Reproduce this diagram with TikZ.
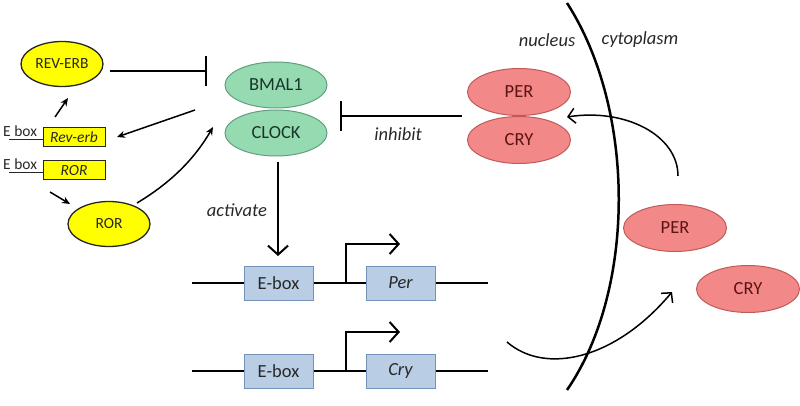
\documentclass[tikz,border=0pt]{standalone}
\usepackage{fontspec}
\setmainfont{Carlito}
\usetikzlibrary{arrows.meta,shapes.geometric}
\definecolor{yfill}{RGB}{255,255,0}
\definecolor{gfill}{RGB}{150,218,178}
\definecolor{gdraw}{RGB}{95,160,125}
\definecolor{rfill}{RGB}{243,136,136}
\definecolor{rdraw}{RGB}{190,90,88}
\definecolor{bfill}{RGB}{185,205,229}
\definecolor{bdraw}{RGB}{115,145,185}
\definecolor{tdark}{RGB}{40,40,40}
\definecolor{tred}{RGB}{90,20,20}
\definecolor{tgreen}{RGB}{25,55,40}
\begin{document}
\begin{tikzpicture}[x=1pt,y=-1pt,
  yell/.style={ellipse,draw=black!85,line width=1.3pt,fill=yfill,text=tdark,
    font=\fontsize{15.5}{18}\selectfont,minimum width=82pt,minimum height=45pt,inner sep=0pt},
  ygene/.style={rectangle,draw=black!85,line width=1pt,fill=yfill,text=tdark,
    font=\fontsize{15.5}{18}\selectfont\itshape,minimum width=62pt,minimum height=19pt,inner sep=0pt},
  grn/.style={ellipse,draw=gdraw,line width=1pt,fill=gfill,text=tgreen,
    font=\fontsize{18.5}{22}\selectfont,minimum width=102pt,minimum height=46pt,inner sep=0pt},
  red/.style={ellipse,draw=rdraw,line width=1pt,fill=rfill,text=tred,
    font=\fontsize{18.5}{22}\selectfont,minimum width=103pt,minimum height=47pt,inner sep=0pt},
  bbox/.style={rectangle,draw=bdraw,line width=1pt,fill=bfill,text=tdark,
    font=\fontsize{18.5}{22}\selectfont,minimum width=69pt,minimum height=34pt,inner sep=0pt},
  lab/.style={text=tdark,font=\fontsize{18.5}{22}\selectfont\itshape,inner sep=0pt},
  small/.style={text=tdark,font=\fontsize{15.5}{18}\selectfont,inner sep=0pt},
  sarr/.style={line width=1.5pt,-{Stealth[length=8pt,width=7pt]}},
  inh/.style={line width=2pt,-{Bar[width=30pt,line width=2pt]}},
  oarr/.style={line width=2pt,-{Straight Barb[length=9pt,width=20pt,line width=2pt]}},
  carr/.style={line width=1.5pt,-{Straight Barb[length=7pt,width=15pt,line width=1.5pt]}},
  gline/.style={line width=2.5pt}
]
\useasboundingbox (0,0) rectangle (800,406);
% left yellow part
\node[yell] (reverb) at (62,64) {REV-ERB};
\node[yell] (ror) at (109,224) {ROR};
\node[ygene] (revgene) at (74,137.5) {Rev-erb};
\node[ygene] (rorgene) at (74,170.5) {ROR};
\node[small,anchor=base west] (eb1) at (3,137) {E box};
\node[small,anchor=base west] (eb2) at (3,170) {E box};
\coordinate (l1) at (9,140);
\coordinate (l2) at (9,173);
\draw[line width=1pt,black!85] (l1) -- (l1 -| revgene.west);
\draw[line width=1pt,black!85] (l2) -- (l2 -| rorgene.west);
% green
\node[grn] (bmal) at (276,85) {BMAL1};
\node[grn] (clock) at (276,133) {CLOCK};
% red nuclear
\node[red] (per1) at (519,92) {PER};
\node[red] (cry1) at (519,140) {CRY};
% red cytoplasm
\node[red] (per2) at (675,228) {PER};
\node[red] (cry2) at (748,289) {CRY};
% gene boxes
\node[bbox] (ebox1) at (278.5,283) {E-box};
\node[bbox] (pergene) at (400.5,283) {\itshape Per};
\node[bbox] (ebox2) at (278.5,371) {E-box};
\node[bbox] (crygene) at (400.5,371) {\itshape Cry};
% labels
\node[lab] (inhl) at (398,134) {inhibit};
\node[lab] (actl) at (237,210) {activate};
\node[lab] (nucl) at (547,40) {nucleus};
\node[lab] (cytl) at (640,40) {cytoplasm};
% coordinates
\coordinate (a1s) at (55,117);
\coordinate (a1e) at (68,98);
\coordinate (i1s) at (110,71);
\coordinate (i1e) at (207,71);
\coordinate (a2s) at (195,110);
\coordinate (a2e) at (117,137);
\coordinate (a3s) at (50,192);
\coordinate (a3e) at (70,204);
\coordinate (a4s) at (137,203);
\coordinate (a4e) at (213,127);
\coordinate (i2s) at (462,116);
\coordinate (i2e) at (340,116);
\coordinate (actS) at (278,162);
\coordinate (actE) at (278,256);
\coordinate (g1s) at (192,283);
\coordinate (g1e) at (488,283);
\coordinate (g2s) at (192,371);
\coordinate (g2e) at (488,371);
\coordinate (p1b) at (346,283);
\coordinate (p1t) at (346,244);
\coordinate (p1e) at (400,244);
\coordinate (p2b) at (346,371);
\coordinate (p2t) at (346,332);
\coordinate (p2e) at (400,332);
\coordinate (nTop) at (567,3);
\coordinate (nBot) at (567,390);
\coordinate (c1s) at (678,176);
\coordinate (c1e) at (567,117);
\coordinate (c2s) at (507,342);
\coordinate (c2e) at (672,292);
% connectors
\draw[sarr] (a1s) -- (a1e);
\draw[inh] (i1s) -- (i1e);
\draw[sarr] (a2s) -- (a2e);
\draw[sarr] (a3s) -- (a3e);
\draw[sarr] (a4s) .. controls (172,182) and (195,158) .. (a4e);
\draw[inh] (i2s) -- (i2e);
\draw[oarr] (actS) -- (actE);
% gene lines
\draw[gline] (g1s) -- (ebox1.west);
\draw[gline] (ebox1.east) -- (pergene.west);
\draw[gline] (pergene.east) -- (g1e);
\draw[gline] (g2s) -- (ebox2.west);
\draw[gline] (ebox2.east) -- (crygene.west);
\draw[gline] (crygene.east) -- (g2e);
\draw[oarr] (p1b) -- (p1t) -- (p1e);
\draw[oarr] (p2b) -- (p2t) -- (p2e);
% nuclear membrane
\draw[line width=2.5pt] (nTop) .. controls (636,110) and (636,290) .. (nBot);
% curved arrows
\draw[carr] (c1s) .. controls (678,135) and (625,108) .. (c1e);
\draw[carr] (c2s) .. controls (545,375) and (615,360) .. (c2e);
\end{tikzpicture}
\end{document}
